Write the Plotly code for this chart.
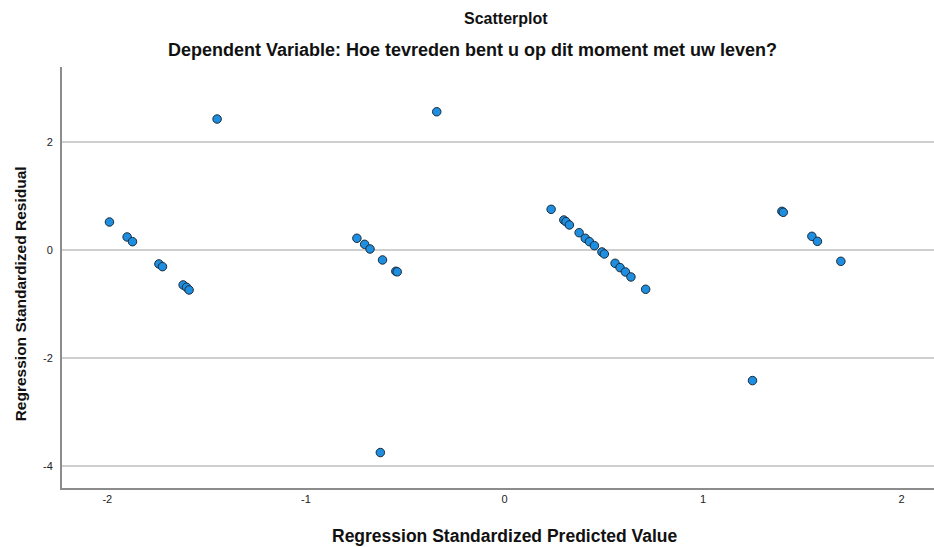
import plotly.graph_objects as go

# Regression standardized predicted values (x) and residuals (y)
predicted = [
    -1.989, -1.900, -1.873, -1.740, -1.722, -1.618, -1.601, -1.588,
    -1.447,
    -0.743, -0.704, -0.677, -0.614, -0.547, -0.540, -0.625,
    -0.341,
    0.235, 0.299, 0.310, 0.327, 0.376, 0.407, 0.428, 0.453, 0.491, 0.503,
    0.557, 0.582, 0.609, 0.637, 0.711,
    1.249, 1.397, 1.404, 1.548, 1.576, 1.694,
]
residual = [
    0.518, 0.241, 0.154, -0.259, -0.309, -0.648, -0.691, -0.741,
    2.426,
    0.217, 0.105, 0.018, -0.185, -0.395, -0.405, -3.753,
    2.561,
    0.753, 0.555, 0.525, 0.463, 0.320, 0.216, 0.154, 0.080, -0.037, -0.074,
    -0.247, -0.327, -0.407, -0.500, -0.728,
    -2.420, 0.716, 0.698, 0.253, 0.160, -0.210,
]

x_ticks = [-2, -1, 0, 1, 2]
x_tick_labels = ["-2", "-1", "0", "1", "2"]
y_ticks = [-4, -2, 0, 2]
y_tick_labels = ["-4", "-2", "0", "2"]

FONT = "Liberation Sans, Arial, sans-serif"

fig = go.Figure()
fig.add_trace(go.Scatter(
    x=predicted, y=residual, mode="markers",
    marker=dict(size=8.5, color="#1e8fe0",
                line=dict(color="#1b2b3b", width=1)),
    showlegend=False, hoverinfo="x+y",
))

fig.update_layout(
    width=934, height=547,
    margin=dict(l=62, r=0, t=67, b=59),
    paper_bgcolor="white", plot_bgcolor="white",
    font=dict(family=FONT, color="#222222"),
    xaxis=dict(
        range=[-2.228, 2.163], tickvals=x_ticks, ticktext=x_tick_labels,
        showgrid=False, zeroline=False,
        showline=True, linecolor="#8c8c8c", linewidth=2,
        ticks="", tickfont=dict(size=11, color="#222222"),
    ),
    yaxis=dict(
        range=[-4.41, 3.39], tickvals=y_ticks, ticktext=y_tick_labels,
        showgrid=True, gridcolor="#cfcfcf", gridwidth=1.5,
        zeroline=False,
        showline=True, linecolor="#8c8c8c", linewidth=2,
        ticks="", ticklabelstandoff=5,
        tickfont=dict(size=11, color="#222222"),
    ),
    annotations=[
        dict(text="<b>Scatterplot</b>", xref="paper", yref="paper",
             x=0.509, y=1, xanchor="center", yanchor="bottom",
             yshift=38, showarrow=False, font=dict(size=16, family=FONT, color="#111111")),
        dict(text="<b>Dependent Variable: Hoe tevreden bent u op dit moment met uw leven?</b>",
             xref="paper", yref="paper",
             x=0.471, y=1, xanchor="center", yanchor="bottom",
             yshift=5, showarrow=False, font=dict(size=18, family=FONT, color="#111111")),
        dict(text="<b>Regression Standardized Predicted Value</b>",
             xref="paper", yref="paper",
             x=0.508, y=0, xanchor="center", yanchor="top",
             yshift=-36, showarrow=False, font=dict(size=17.5, family=FONT, color="#111111")),
        dict(text="<b>Regression Standardized Residual</b>",
             xref="paper", yref="paper",
             x=0, y=0.46, xanchor="center", yanchor="middle",
             xshift=-42, textangle=-90, showarrow=False,
             font=dict(size=15.5, family=FONT, color="#111111")),
    ],
)

fig.write_html("out.html")
